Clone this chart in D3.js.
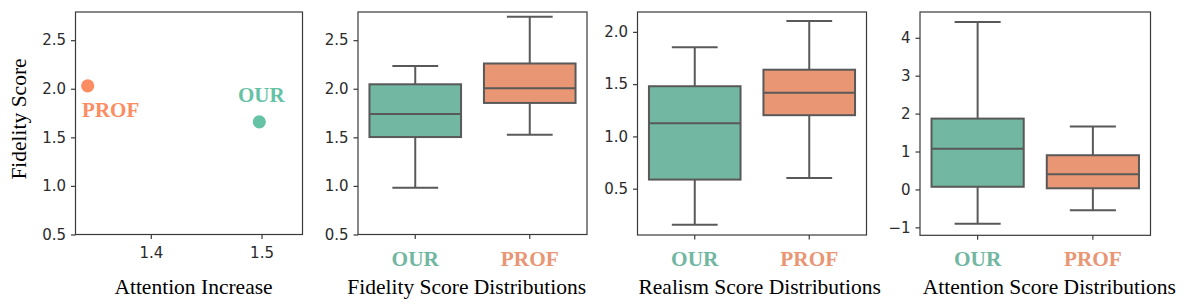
<!DOCTYPE html>
<html>
<head>
<meta charset="utf-8">
<script src="https://cdn.jsdelivr.net/npm/d3@7"></script>
<style>
  body { margin: 0; background: #fff; }
  .tick text { font-family: "DejaVu Sans", sans-serif; font-size: 15px; fill: #2b2b2b; }
  .serif { font-family: "Liberation Serif", "Times New Roman", serif; }
</style>
</head>
<body>
<div class="chart"></div>
<script>
// Chart data
var groups = ["OUR", "PROF"];
var attentionIncrease = [1.498, 1.343];
var fidelityMean = [1.66, 2.03];

// box stats: [low whisker, q1, median, q3, high whisker]
var fidelityOUR = [0.98, 1.503, 1.74, 2.046, 2.235];
var fidelityPROF = [1.527, 1.854, 2.005, 2.26, 2.74];
var realismOUR = [0.154, 0.587, 1.126, 1.48, 1.853];
var realismPROF = [0.603, 1.203, 1.417, 1.638, 2.103];
var attentionOUR = [-0.905, 0.07, 1.07, 1.868, 4.414];
var attentionPROF = [-0.55, 0.03, 0.40, 0.902, 1.657];

var fidelityTicks = [0.5, 1.0, 1.5, 2.0, 2.5];
var realismTicks = [0.5, 1.0, 1.5, 2.0];
var attentionTicks = [-1, 0, 1, 2, 3, 4];
var scatterXTicks = [1.4, 1.5];

var titles = ["Attention Increase", "Fidelity Score Distributions",
  "Realism Score Distributions", "Attention Score Distributions"];

// colours
var pointColors = ["#66c2a5", "#fc8d62"];
var boxColors = ["#71b7a1", "#e99675"];
var lineGray = "#595959";

var svgWidth = 1184;
var svgHeight = 304;
var marginTop = 12;

var svg = d3.select(".chart").append("svg")
  .attr("width", svgWidth)
  .attr("height", svgHeight);

// frame helper
function drawFrame(g, w, h) {
  g.append("rect")
    .attr("x", 0).attr("y", 0)
    .attr("width", w).attr("height", h)
    .attr("fill", "none")
    .attr("stroke", "#3a3a3a")
    .attr("stroke-width", 1.2);
}

function styleAxis(sel) {
  sel.select(".domain").remove();
  sel.selectAll(".tick line").attr("stroke", "#3a3a3a").attr("stroke-width", 1.2);
}

// ---------- Panel 1: scatter ----------
var p1 = { left: 75.5, width: 227, height: 222.5 };
var g1 = svg.append("g").attr("transform", "translate(" + p1.left + "," + marginTop + ")");

var x1 = d3.scaleLinear().domain([1.332, 1.537]).range([0, p1.width]);
var y1 = d3.scaleLinear().domain([0.5, 2.79]).range([p1.height, 0]);

g1.append("g").attr("transform", "translate(0," + p1.height + ")")
  .call(d3.axisBottom(x1).tickValues(scatterXTicks).tickFormat(d3.format(".1f")).tickSize(4.5).tickPadding(8))
  .call(styleAxis);
g1.append("g")
  .call(d3.axisLeft(y1).tickValues(fidelityTicks).tickFormat(d3.format(".1f")).tickSize(4.5).tickPadding(5))
  .call(styleAxis);

g1.selectAll("circle.pt")
  .data(groups)
  .enter()
  .append("circle")
  .attr("class", "pt")
  .attr("cx", function (d, i) { return x1(attentionIncrease[i]); })
  .attr("cy", function (d, i) { return y1(fidelityMean[i]); })
  .attr("r", 6.6)
  .attr("fill", function (d, i) { return pointColors[i]; });

// point labels
var labelOffset = [{ dx: 2, dy: -20, anchor: "middle" }, { dx: -5.6, dy: 31.3, anchor: "start" }];
g1.selectAll("text.pl")
  .data(groups)
  .enter()
  .append("text")
  .attr("class", "pl serif")
  .attr("x", function (d, i) { return x1(attentionIncrease[i]) + labelOffset[i].dx; })
  .attr("y", function (d, i) { return y1(fidelityMean[i]) + labelOffset[i].dy; })
  .attr("text-anchor", function (d, i) { return labelOffset[i].anchor; })
  .attr("font-size", "21px")
  .attr("font-weight", "bold")
  .attr("fill", function (d, i) { return pointColors[i]; })
  .text(function (d) { return d; });

drawFrame(g1, p1.width, p1.height);

// y label
svg.append("text")
  .attr("class", "serif")
  .attr("transform", "translate(25.5,119) rotate(-90)")
  .attr("text-anchor", "middle")
  .attr("font-size", "21.5px")
  .attr("fill", "#000")
  .text("Fidelity Score");

// ---------- Box panels ----------
var boxPanels = [
  { left: 358, width: 229, height: 222.5, domain: [0.5, 2.79], ticks: fidelityTicks, fmt: ".1f", stats: [fidelityOUR, fidelityPROF] },
  { left: 637.5, width: 229, height: 223, domain: [0.057, 2.19], ticks: realismTicks, fmt: ".1f", stats: [realismOUR, realismPROF] },
  { left: 920, width: 230.5, height: 223.3, domain: [-1.21, 4.68], ticks: attentionTicks, fmt: "d", stats: [attentionOUR, attentionPROF] }
];

boxPanels.forEach(function (p) {
  var g = svg.append("g").attr("transform", "translate(" + p.left + "," + marginTop + ")");
  var x = d3.scaleBand().domain(groups).range([0, p.width]).paddingInner(0).paddingOuter(0);
  var y = d3.scaleLinear().domain(p.domain).range([p.height, 0]);
  var boxW = x.bandwidth() * 0.8;

  g.append("g").attr("transform", "translate(0," + p.height + ")")
    .call(d3.axisBottom(x).tickSize(4.5).tickFormat(""))
    .call(styleAxis);
  g.append("g")
    .call(d3.axisLeft(y).tickValues(p.ticks).tickFormat(d3.format(p.fmt)).tickSize(4.5).tickPadding(5))
    .call(styleAxis);

  var boxes = g.selectAll("g.box")
    .data(groups)
    .enter()
    .append("g")
    .attr("class", "box");

  // whiskers
  boxes.append("line")
    .attr("x1", function (d) { return x(d) + x.bandwidth() / 2; })
    .attr("x2", function (d) { return x(d) + x.bandwidth() / 2; })
    .attr("y1", function (d, i) { return y(p.stats[i][3]); })
    .attr("y2", function (d, i) { return y(p.stats[i][4]); });
  boxes.append("line")
    .attr("x1", function (d) { return x(d) + x.bandwidth() / 2; })
    .attr("x2", function (d) { return x(d) + x.bandwidth() / 2; })
    .attr("y1", function (d, i) { return y(p.stats[i][1]); })
    .attr("y2", function (d, i) { return y(p.stats[i][0]); });
  // caps
  [0, 4].forEach(function (k) {
    boxes.append("line")
      .attr("x1", function (d) { return x(d) + x.bandwidth() / 2 - boxW / 4; })
      .attr("x2", function (d) { return x(d) + x.bandwidth() / 2 + boxW / 4; })
      .attr("y1", function (d, i) { return y(p.stats[i][k]); })
      .attr("y2", function (d, i) { return y(p.stats[i][k]); });
  });
  // box
  boxes.append("rect")
    .attr("x", function (d) { return x(d) + (x.bandwidth() - boxW) / 2; })
    .attr("width", boxW)
    .attr("y", function (d, i) { return y(p.stats[i][3]); })
    .attr("height", function (d, i) { return y(p.stats[i][1]) - y(p.stats[i][3]); })
    .attr("fill", function (d, i) { return boxColors[i]; });
  // median
  boxes.append("line")
    .attr("x1", function (d) { return x(d) + (x.bandwidth() - boxW) / 2; })
    .attr("x2", function (d) { return x(d) + (x.bandwidth() + boxW) / 2; })
    .attr("y1", function (d, i) { return y(p.stats[i][2]); })
    .attr("y2", function (d, i) { return y(p.stats[i][2]); });

  boxes.selectAll("line, rect")
    .attr("stroke", lineGray)
    .attr("stroke-width", 2);

  // category labels
  g.selectAll("text.cat")
    .data(groups)
    .enter()
    .append("text")
    .attr("class", "cat serif")
    .attr("x", function (d) { return x(d) + x.bandwidth() / 2; })
    .attr("y", 253.7)
    .attr("text-anchor", "middle")
    .attr("font-size", "21.3px")
    .attr("font-weight", "bold")
    .attr("fill", function (d, i) { return boxColors[i]; })
    .text(function (d) { return d; });

  drawFrame(g, p.width, p.height);
});

// panel titles
var titleX = [193.5, 466.7, 759.7, 1049.3];
svg.selectAll("text.title")
  .data(titles)
  .enter()
  .append("text")
  .attr("class", "title serif")
  .attr("x", function (d, i) { return titleX[i]; })
  .attr("y", 293.5)
  .attr("text-anchor", "middle")
  .attr("font-size", "21.5px")
  .attr("fill", "#000")
  .text(function (d) { return d; });
</script>
</body>
</html>
